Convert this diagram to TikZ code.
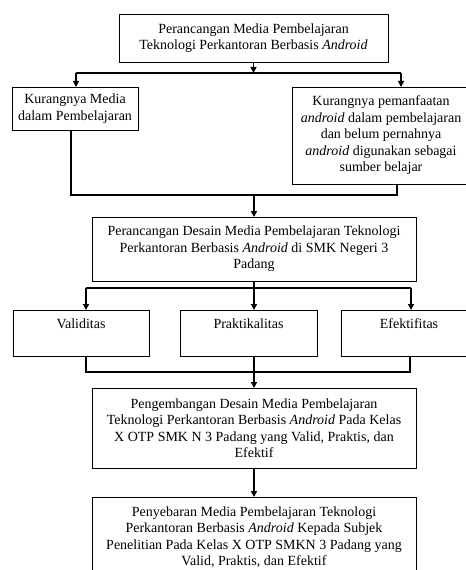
\documentclass[tikz,border=0pt]{standalone}
\usepackage{fontspec}
\setmainfont{Liberation Serif}
\usetikzlibrary{arrows.meta}

\begin{document}
\begin{tikzpicture}[x=1bp,y=-1bp,inner sep=0pt,outer sep=0pt,
  kotak/.style={draw,line width=0.8bp,anchor=north west,align=center,font=\fontsize{14bp}{16.5bp}\selectfont},
  kotakatas/.style={kotak,text height=18bp,text depth=28bp},
  garis/.style={line width=1.8bp},
  panah/.style={garis,-{Triangle[length=6bp,width=6bp]}}]
  \useasboundingbox (0,0) rectangle (466,570);
  % kotak
  \node[kotak,minimum width=269bp,minimum height=48bp] (judul) at (119,14) {Perancangan Media Pembelajaran\\Teknologi Perkantoran Berbasis \textit{Android}};
  \node[kotak,minimum width=126bp,minimum height=43bp] (media) at (12,87) {Kurangnya Media\\dalam Pembelajaran};
  \node[kotak,minimum width=178bp,minimum height=97bp] (android) at (292,87) {Kurangnya pemanfaatan\\\textit{android} dalam pembelajaran\\dan belum pernahnya\\\textit{android} digunakan sebagai\\sumber belajar};
  \node[kotak,minimum width=324bp,minimum height=64bp] (desain) at (92,217) {Perancangan Desain Media Pembelajaran Teknologi\\Perkantoran Berbasis \textit{Android} di SMK Negeri 3\\Padang};
  \node[kotakatas,minimum width=136bp] (validitas) at (13,310) {Validitas};
  \node[kotakatas,minimum width=137bp] (praktis) at (180,310) {Praktikalitas};
  \node[kotakatas,minimum width=136bp] (efektif) at (341,310) {Efektifitas};
  \node[kotak,minimum width=324bp,minimum height=80bp] (pengembangan) at (92,388) {Pengembangan Desain Media Pembelajaran\\Teknologi Perkantoran Berbasis \textit{Android} Pada Kelas\\X OTP SMK N 3 Padang yang Valid, Praktis, dan\\Efektif};
  \node[kotak,minimum width=324bp,minimum height=80bp] (penyebaran) at (92,497) {Penyebaran Media Pembelajaran Teknologi\\Perkantoran Berbasis \textit{Android} Kepada Subjek\\Penelitian Pada Kelas X OTP SMKN 3 Padang yang\\Valid, Praktis, dan Efektif};
  % titik cabang
  \coordinate (p1) at (76,73);
  \coordinate (p2) at (401,73);
  \coordinate (q1) at (71,195);
  \coordinate (q2) at (397,195);
  \coordinate (r1) at (86,288);
  \coordinate (r2) at (411,288);
  \coordinate (s1) at (86,372);
  \coordinate (s2) at (410,372);
  % garis
  \draw[panah] (judul.south) -- (judul.south |- p1);
  \draw[garis] (p1) -- (p2);
  \draw[panah] (p1) -- (p1 |- media.north);
  \draw[panah] (p2) -- (p2 |- android.north);
  \draw[garis] (q1 |- media.south) -- (q1) -- (q2) -- (q2 |- android.south);
  \draw[panah] (desain.north |- q1) -- (desain.north);
  \draw[garis] (desain.south) -- (desain.south |- r1);
  \draw[garis] (r1) -- (r2);
  \draw[panah] (r1) -- (r1 |- validitas.north);
  \draw[panah] (desain.south |- r1) -- (desain.south |- praktis.north);
  \draw[panah] (r2) -- (r2 |- efektif.north);
  \draw[garis] (s1 |- validitas.south) -- (s1) -- (s2) -- (s2 |- efektif.south);
  \draw[panah] (pengembangan.north |- praktis.south) -- (pengembangan.north);
  \draw[panah] (pengembangan.south) -- (penyebaran.north);
\end{tikzpicture}
\end{document}
